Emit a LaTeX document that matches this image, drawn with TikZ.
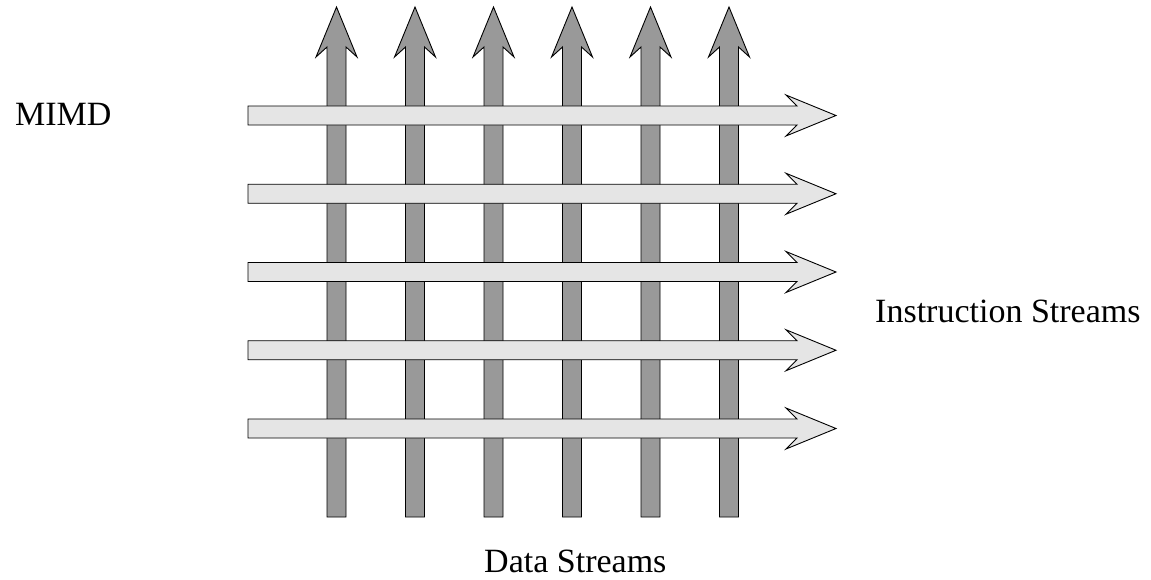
\documentclass[tikz,border=0pt]{standalone}
\usepackage{fontspec}
\setmainfont{Liberation Serif}
\begin{document}
\begin{tikzpicture}[x=1pt,y=-1pt,
  datastream/.style={draw=black,line width=0.9pt,fill=black!40,line join=miter},
  instrstream/.style={draw=black,line width=0.9pt,fill=black!10,line join=miter},
  caption/.style={inner sep=0pt,anchor=base west,font=\fontsize{34}{40}\selectfont}]
  \useasboundingbox (0,0) rectangle (1151,579);
  % vertical data streams
  \foreach \cx in {336.5,415,493.5,572,650.5,729} {
    \draw[datastream] (\cx-9.5,517) -- (\cx-9.5,47) -- (\cx-20.5,57) -- (\cx,7)
      -- (\cx+20.5,57) -- (\cx+9.5,47) -- (\cx+9.5,517) -- cycle;
  }
  % horizontal instruction streams, drawn over the data streams
  \foreach \cy in {115.5,193.75,272,350.25,428.5} {
    \draw[instrstream] (248,\cy-9.5) -- (797,\cy-9.5) -- (786,\cy-20.5) -- (836,\cy)
      -- (786,\cy+20.5) -- (797,\cy+9.5) -- (248,\cy+9.5) -- cycle;
  }
  \node[caption] (mimd) at (15,125) {MIMD};
  \node[caption] (instr) at (875,322) {Instruction Streams};
  \node[caption] (data) at (484,572) {Data Streams};
\end{tikzpicture}
\end{document}
